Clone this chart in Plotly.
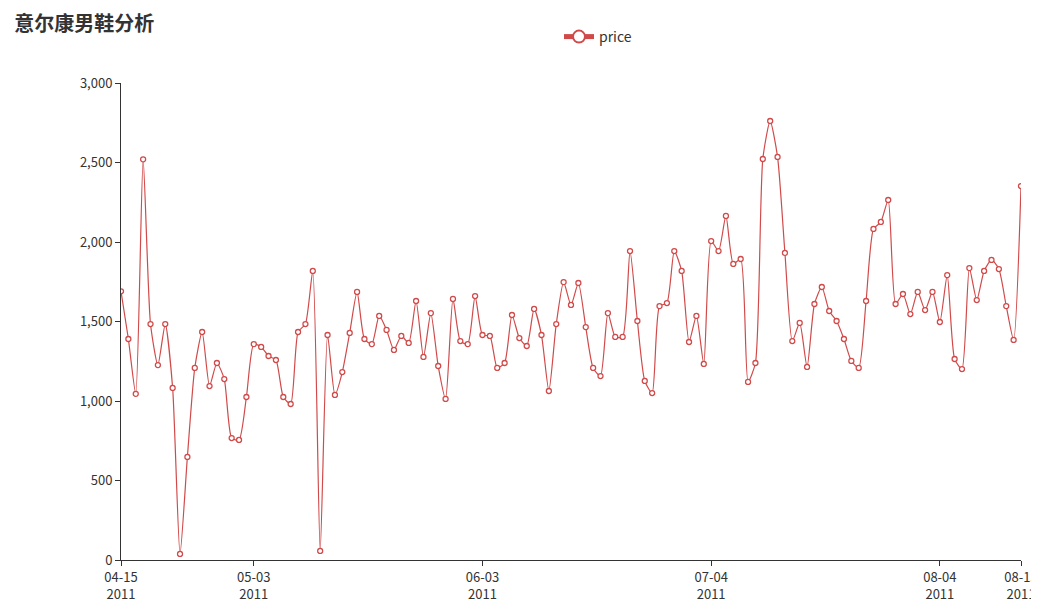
import plotly.graph_objects as go
import pandas as pd

dates = pd.date_range("2011-04-15", "2011-08-15", freq="D")
price = [1690,1390,1045,2520,1484,1226,1484,1082,38,648,1208,1434,1094,1239,1138,767,755,1025,1358,1340,1283,1258,1025,981,1434,1484,1818,
         57,1415,1038,1182,1428,1686,1390,1358,1535,1447,1321,1409,1365,1629,1277,1553,1220,1013,1642,1377,1358,1660,1415,1409,1208,
         1239,1541,1396,1346,1579,1415,1063,1484,1748,1604,1742,1465,1208,1157,1553,1403,1403,1943,1503,1126,1050,1597,1616,1943,1818,
         1371,1535,1233,2006,1943,2164,1862,1893,1120,1239,2522,2761,2535,1931,1377,1491,1214,1610,1717,1566,1503,1390,1252,1208,
         1629,2082,2126,2264,1610,1673,1547,1686,1572,1686,1497,1792,1264,1201,1836,1635,1818,1887,1830,1597,1384,2352]
tick_dates = ["2011-04-15","2011-05-03","2011-06-03","2011-07-04","2011-08-04","2011-08-15"]
tick_text = ["04-15<br>2011","05-03<br>2011","06-03<br>2011","07-04<br>2011","08-04<br>2011","08-15<br>2011"]

color = "#d14a4a"
fig = go.Figure(go.Scatter(
    x=dates, y=price, name="price", mode="lines+markers",
    line=dict(color=color, width=1.2, shape="spline", smoothing=0.6),
    marker=dict(symbol="circle", size=5, color="white", line=dict(color=color, width=1.3)),
))
fig.update_layout(
    width=1039, height=604, paper_bgcolor="white", plot_bgcolor="white",
    margin=dict(l=113, r=26, t=75, b=52, autoexpand=False),
    font=dict(family="Noto Sans CJK SC, sans-serif", color="#333"),
    title=dict(text="<b>意尔康男鞋分析</b>", x=0.006, y=0.985, xanchor="left", yanchor="top",
               font=dict(size=20, color="#333")),
    showlegend=True,
    legend=dict(orientation="h", x=0.53, y=1.13, xanchor="center", yanchor="top",
                font=dict(size=14, color="#333"), itemsizing="constant", bgcolor="rgba(0,0,0,0)"),
    xaxis=dict(range=[dates[0], dates[-1]], tickvals=tick_dates, ticktext=tick_text, showgrid=False,
               showline=True, linecolor="#333", ticks="outside", tickcolor="#333", ticklen=5,
               tickfont=dict(size=13, color="#333"), zeroline=False, automargin=False),
    yaxis=dict(range=[0, 3000], dtick=500, tickformat=",", showgrid=False, showline=True, linecolor="#333",
               ticks="outside", tickcolor="#333", ticklen=5, tickfont=dict(size=13, color="#333"),
               zeroline=False, automargin=False),
)
fig.write_html("out.html")
